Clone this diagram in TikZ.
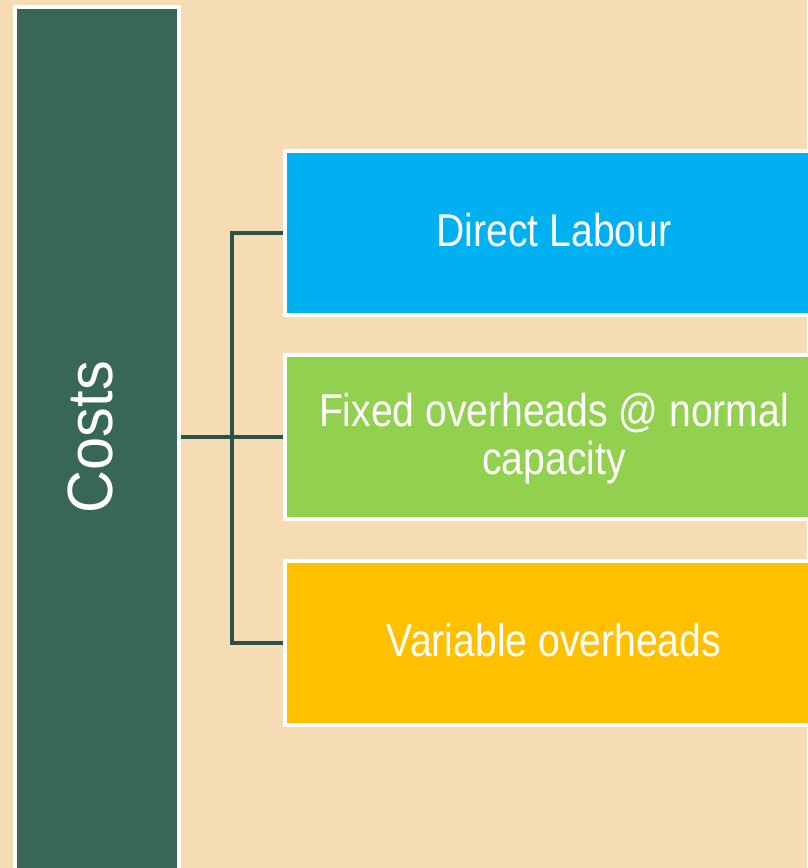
\documentclass[tikz,border=0pt]{standalone}
\usepackage{fontspec}
\setmainfont[FakeStretch=0.85]{Liberation Sans}
\newfontfamily\costsfont[FakeStretch=0.93]{Liberation Sans}
\definecolor{paper}{HTML}{F5DCB4}
\definecolor{pine}{HTML}{386657}
\definecolor{pineline}{HTML}{2B5246}
\definecolor{sky}{HTML}{00B0F0}
\definecolor{lime}{HTML}{92D050}
\definecolor{amber}{HTML}{FFC000}
\begin{document}
\begin{tikzpicture}[x=1pt,y=-1pt,line join=miter,
	box/.style={draw=white,line width=4pt,minimum width=538pt,minimum height=164pt,
		inner sep=0pt,text depth=6pt,text=white,align=center,font=\fontsize{46}{48}\selectfont},
	link/.style={draw=pineline,line width=4.4pt}]
		\useasboundingbox (0,0) rectangle (807,868);
		\fill[paper] (0,0) rectangle (807,868);
		\path
		(232,437) coordinate (fork)
		;
		\node[draw=white,fill=pine,line width=4pt,minimum width=164pt,minimum height=873pt,inner sep=0pt]
		(costs) at (97,443.5) {};
		\node[rotate=90,text=white,inner sep=0pt,font=\costsfont\fontsize{64}{66}\selectfont]
		(costslabel) at (90,437) {Costs};
		\node[box,fill=sky] (labour) at (554,233) {Direct Labour};
		\node[box,fill=lime] (fixed) at (554,437) {Fixed overheads @ normal\\capacity};
		\node[box,fill=amber] (variable) at (554,643) {Variable overheads};
		\draw[link]
		(costs.east |- fixed.west)--(fixed.west)
		(labour.west) -| (fork) |- (variable.west)
		;
\end{tikzpicture}
\end{document}
